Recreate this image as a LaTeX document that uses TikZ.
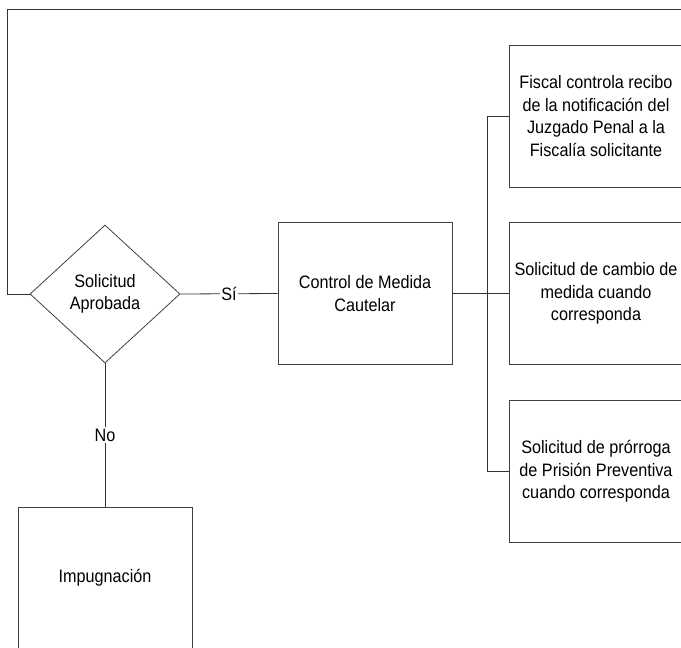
\documentclass[tikz,border=0pt]{standalone}
\usepackage{fontspec}
\setmainfont[FakeStretch=0.9]{Liberation Sans}
\usetikzlibrary{shapes.geometric}
\begin{document}
\begin{tikzpicture}[x=1pt,y=-1pt,
  every node/.style={font={\fontsize{18}{22.5}\selectfont}, align=center, text=black},
  boxnode/.style={draw=black!75, line width=0.8pt, minimum width=174pt, minimum height=142pt, inner sep=0pt},
  decnode/.style={draw=black!75, line width=0.8pt, shape=diamond, minimum width=150pt, minimum height=138pt, inner sep=0pt},
  conn/.style={draw=black!80, line width=0.8pt},
  lbl/.style={fill=white, inner sep=1.5pt}]
\clip (0,0) rectangle (681,648);
\fill[white] (0,0) rectangle (681,648);
\node[decnode] (dia) at (105,294) {Solicitud\\Aprobada};
\node[boxnode] (ctrl) at (365,293.5) {Control de Medida\\Cautelar};
\node[boxnode] (fiscal) at (596,116) {Fiscal controla recibo\\de la notificación del\\Juzgado Penal a la\\Fiscalía solicitante};
\node[boxnode] (cambio) at (596,293.5) {Solicitud de cambio de\\medida cuando\\corresponda};
\node[boxnode] (prorroga) at (596,471.5) {Solicitud de prórroga\\de Prisión Preventiva\\cuando corresponda};
\node[boxnode] (imp) at (105,578) {Impugnación};
\coordinate (loopend) at (690,9);
\draw[conn] (dia.west) -- ++(-22,0) |- (loopend);
\draw[conn] (dia.east) -- node[lbl] {Sí} (ctrl.west);
\draw[conn] (dia.south) -- node[lbl] {No} (imp.north);
\draw[conn] (ctrl.east) -- (cambio.west);
\draw[conn] (fiscal.west) -- ++(-21,0) |- (prorroga.west);
\end{tikzpicture}
\end{document}
